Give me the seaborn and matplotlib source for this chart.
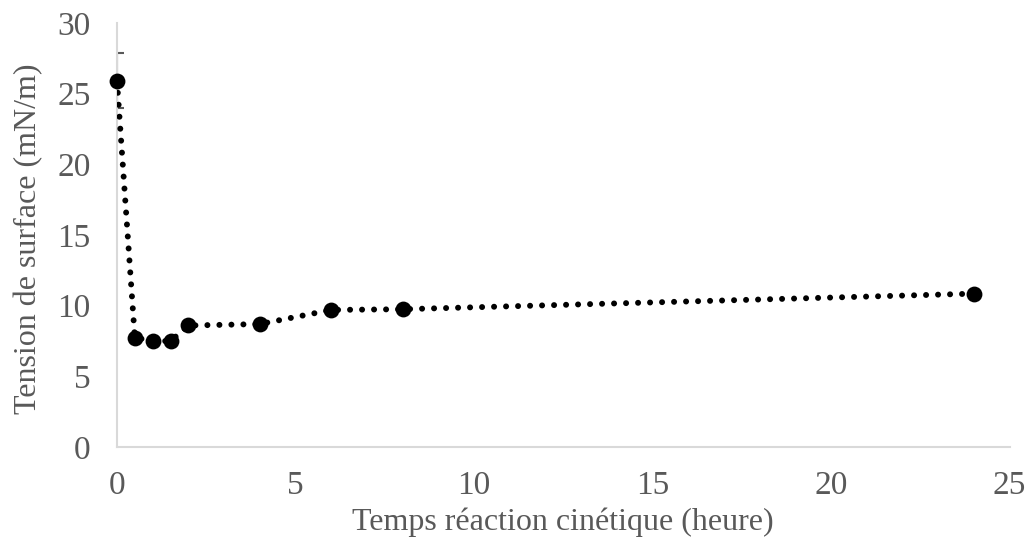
import matplotlib
matplotlib.use("Agg")
import matplotlib.pyplot as plt
import seaborn as sns
import pandas as pd

temps = [0, 0.5, 1, 1.5, 2, 4, 6, 8, 24]
tension = [25.9, 7.75, 7.5, 7.5, 8.6, 8.7, 9.7, 9.75, 10.85]
err = [1.95, 0, 0, 0, 0, 0, 0, 0, 0]
xticks = [0, 5, 10, 15, 20, 25]
yticks = [0, 5, 10, 15, 20, 25, 30]
xlabel = "Temps réaction cinétique (heure)"
ylabel = "Tension de surface (mN/m)"

sns.set_theme(style="white")
plt.rcParams['font.family'] = ['Liberation Serif', 'DejaVu Serif']

df = pd.DataFrame({"t": temps, "s": tension})

fig = plt.figure(figsize=(10.26, 5.42), dpi=100)
ax = fig.add_axes([0.114, 0.175, 0.870, 0.783])

ax.errorbar(temps, tension, yerr=err, fmt='none', ecolor='#595959',
            elinewidth=1.5, capsize=5, capthick=1.5, zorder=2)
sns.lineplot(data=df, x="t", y="s", ax=ax, color='black', linewidth=4.3,
             linestyle=(0, (0.01, 2.0)), dash_capstyle='round', zorder=3)
sns.scatterplot(data=df, x="t", y="s", ax=ax, color='black', s=130,
                edgecolor='black', linewidth=0, zorder=4, clip_on=False)

ax.set_xlim(0, 25)
ax.set_ylim(0, 30)
ax.set_xticks(xticks)
ax.set_yticks(yticks)
ax.set_xlabel(xlabel, fontsize=23, color='#595959')
ax.set_ylabel(ylabel, fontsize=23, color='#595959')
ax.xaxis.label.set_verticalalignment('center')
ax.yaxis.label.set_verticalalignment('center')
ax.xaxis.set_label_coords(0.5, -0.178)
ax.yaxis.set_label_coords(-0.099, 0.49)
ax.tick_params(axis='both', labelsize=24, labelcolor='#595959', colors='#d9d9d9',
               direction='in', length=7, width=1.2)
ax.tick_params(axis='x', pad=17)
ax.tick_params(axis='y', pad=19)
for side in ['top', 'right']:
    ax.spines[side].set_visible(False)
for side in ['left', 'bottom']:
    ax.spines[side].set_color('#d9d9d9')
    ax.spines[side].set_linewidth(1.5)
ax.grid(False)

fig.savefig("out.png", dpi=100)
